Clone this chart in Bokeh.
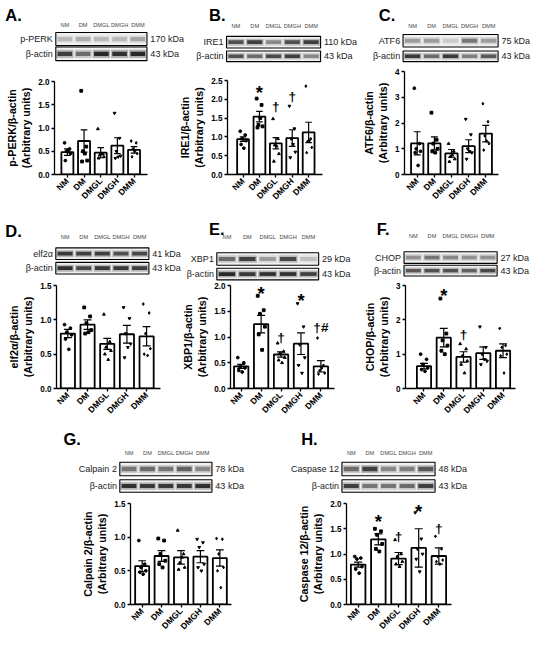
import numpy as np
from bokeh.plotting import figure
from bokeh.layouts import row, column
from bokeh.models import Range1d, FixedTicker, NumeralTickFormatter, Spacer
from bokeh.core.properties import value
from bokeh.embed import file_html
from bokeh.resources import INLINE

S = 0.97
FONT = "Liberation Sans"
GROUPS = ["NM", "DM", "DMGL", "DMGH", "DMM"]
MARKERS = ["circle", "square", "triangle", "inverted_triangle", "diamond"]
JIT = [-0.17, 0.13, -0.06, 0.19, -0.12, 0.05]

# ---------------- data ----------------
# A. p-PERK
perk_mean = [0.48, 0.72, 0.47, 0.62, 0.53]
perk_sem = [0.07, 0.24, 0.11, 0.17, 0.07]
perk_pts = [[0.68, 0.55, 0.50, 0.45, 0.30, 0.52],
            [1.80, 0.60, 0.50, 0.30, 0.28, 0.45],
            [0.98, 0.45, 0.42, 0.38, 0.35, 0.44],
            [1.32, 0.78, 0.50, 0.40, 0.35, 0.38],
            [0.72, 0.68, 0.55, 0.45, 0.38, 0.50]]
perk_yticks = [0, 0.5, 1.0, 1.5, 2.0]
perk_sig_idx, perk_sig_txt, perk_sig_y = [], [], []
perk_band = [0.22, 0.28, 0.22, 0.22, 0.32]
perk_actin = [0.85, 0.6, 1.0, 0.95, 1.0]

# B. IRE1
ire1_mean = [0.94, 1.54, 0.83, 0.97, 1.12]
ire1_sem = [0.06, 0.14, 0.15, 0.22, 0.27]
ire1_pts = [[1.15, 1.05, 0.95, 0.90, 0.80, 0.70],
            [2.02, 1.85, 1.32, 1.28, 1.25, 1.50],
            [1.48, 0.95, 0.78, 0.55, 0.35, 0.75],
            [1.82, 1.22, 0.95, 0.60, 0.45, 0.80],
            [2.35, 0.95, 0.88, 0.72, 0.58, 0.90]]
ire1_yticks = [0, 0.5, 1.0, 1.5, 2.0, 2.5]
ire1_sig_idx = [1, 2, 3]
ire1_sig_txt = ["*", "†", "†"]
ire1_sig_y = [2.30, 1.80, 2.08]
ire1_band = [0.75, 0.85, 0.45, 0.75, 0.85]
ire1_actin = [0.75, 0.6, 0.8, 0.85, 0.45]

# C. ATF6
atf6_mean = [1.21, 1.21, 0.82, 1.10, 1.59]
atf6_sem = [0.45, 0.25, 0.15, 0.25, 0.32]
atf6_pts = [[3.35, 1.20, 1.00, 0.90, 0.85, 0.35],
            [2.40, 1.35, 1.20, 1.00, 0.90, 0.85],
            [1.20, 0.90, 0.70, 0.60, 0.50, 0.75],
            [2.15, 1.55, 1.00, 0.85, 0.60, 0.90],
            [2.75, 2.05, 1.50, 1.20, 0.95, 1.30]]
atf6_yticks = [0, 1, 2, 3, 4]
atf6_sig_idx, atf6_sig_txt, atf6_sig_y = [], [], []
atf6_band = [0.35, 0.35, 0.15, 0.55, 0.35]
atf6_actin = [0.9, 0.6, 0.9, 0.5, 0.7]

# D. elf2alpha
elf_mean = [0.80, 0.93, 0.65, 0.79, 0.76]
elf_sem = [0.06, 0.07, 0.08, 0.13, 0.14]
elf_pts = [[0.93, 0.88, 0.82, 0.78, 0.72, 0.57],
           [1.18, 1.05, 0.95, 0.85, 0.80, 0.82],
           [1.08, 0.68, 0.60, 0.55, 0.50, 0.42],
           [1.18, 1.02, 0.80, 0.65, 0.45, 0.60],
           [1.23, 1.10, 0.80, 0.58, 0.50, 0.48]]
elf_yticks = [0, 0.5, 1.0, 1.5]
elf_sig_idx, elf_sig_txt, elf_sig_y = [], [], []
elf_band = [0.9, 0.85, 0.85, 0.75, 0.8]
elf_actin = [0.95, 0.8, 0.9, 0.9, 0.85]

# E. XBP1
xbp_mean = [0.43, 1.25, 0.66, 0.87, 0.43]
xbp_sem = [0.04, 0.17, 0.05, 0.21, 0.11]
xbp_pts = [[0.60, 0.50, 0.42, 0.40, 0.35, 0.32],
           [1.80, 1.52, 1.45, 1.20, 1.05, 0.75],
           [0.88, 0.72, 0.68, 0.60, 0.55, 0.50],
           [1.65, 1.20, 0.85, 0.60, 0.45, 0.30],
           [0.98, 0.45, 0.35, 0.30, 0.28, 0.40]]
xbp_yticks = [0, 0.5, 1.0, 1.5, 2.0]
xbp_sig_idx = [1, 2, 3, 4]
xbp_sig_txt = ["*", "†", "*", "†#"]
xbp_sig_y = [1.94, 1.0, 1.80, 1.19]
xbp_band = [0.6, 0.85, 0.35, 0.8, 0.2]
xbp_actin = [1.0, 0.9, 0.95, 0.95, 0.85]

# F. CHOP
chop_mean = [0.65, 1.48, 0.92, 1.03, 1.10]
chop_sem = [0.08, 0.27, 0.15, 0.18, 0.20]
chop_pts = [[1.00, 0.85, 0.70, 0.60, 0.55, 0.50],
            [2.62, 1.60, 1.40, 1.25, 1.10, 1.00],
            [1.30, 1.15, 0.95, 0.80, 0.70, 0.45],
            [1.80, 1.20, 1.00, 0.80, 0.70, 0.85],
            [1.75, 1.25, 1.20, 1.00, 0.95, 0.45]]
chop_yticks = [0, 1, 2, 3]
chop_sig_idx = [1, 2]
chop_sig_txt = ["*", "†"]
chop_sig_y = [2.85, 1.58]
chop_band = [0.4, 0.55, 0.45, 0.4, 0.4]
chop_actin = [0.7, 0.75, 0.75, 0.65, 0.8]

# G. Calpain 2
cal_mean = [0.57, 0.72, 0.70, 0.71, 0.69]
cal_sem = [0.08, 0.08, 0.10, 0.09, 0.12]
cal_pts = [[0.95, 0.60, 0.55, 0.50, 0.48, 0.45],
           [0.98, 0.95, 0.75, 0.65, 0.60, 0.55],
           [1.10, 0.75, 0.62, 0.55, 0.52, 0.70],
           [0.97, 0.92, 0.85, 0.60, 0.55, 0.50],
           [0.98, 0.97, 0.75, 0.55, 0.50, 0.25]]
cal_yticks = [0, 0.5, 1.0, 1.5]
cal_sig_idx, cal_sig_txt, cal_sig_y = [], [], []
cal_band = [0.55, 0.6, 0.55, 0.65, 0.45]
cal_actin = [0.95, 0.9, 0.9, 0.9, 0.95]

# H. Caspase 12
cas_mean = [0.79, 1.29, 0.91, 1.12, 0.96]
cas_sem = [0.05, 0.11, 0.12, 0.38, 0.16]
cas_pts = [[0.95, 0.92, 0.90, 0.75, 0.70, 0.62],
           [1.50, 1.45, 1.38, 1.20, 1.10, 1.05],
           [1.28, 1.00, 0.95, 0.85, 0.80, 0.75],
           [1.82, 1.30, 1.10, 1.00, 0.90, 0.65],
           [1.35, 1.10, 0.95, 0.88, 0.85, 0.80]]
cas_yticks = [0, 0.5, 1.0, 1.5, 2.0]
cas_sig_idx = [1, 2, 3, 4]
cas_sig_txt = ["*", "†", "*", "†"]
cas_sig_y = [1.73, 1.35, 1.93, 1.50]
cas_band = [0.6, 0.85, 0.45, 0.5, 0.7]
cas_actin = [0.85, 0.55, 0.55, 0.6, 0.85]

# ---------------- panel specs ----------------
def mk(letter, target, kda, ylabel, mean, sem, pts, yticks, fmt, sig, band, actin, geo):
    d = dict(letter=letter, target=target, kda=kda, ylabel=ylabel, mean=mean, sem=sem,
             pts=pts, yticks=yticks, fmt=fmt, sig=sig, band=band, actin=actin)
    d.update(geo)
    return d


PA = mk("A.", "p-PERK", "170 kDa", "p-PERK/β-actin\n(Arbitrary units)", perk_mean, perk_sem, perk_pts,
        perk_yticks, "0.0", (perk_sig_idx, perk_sig_txt, perk_sig_y), perk_band, perk_actin,
        dict(x0=0, x1=180, letter_xy=(5, 8), lane_y=25, box=(57, 151), b1=(33, 46.5), b2=(48, 62),
             axis=56, end=152, ctop=84, cbot=182, nm=69.3, sp=17.2))
PB = mk("B.", "IRE1", "110 kDa", "IRE1/β-actin\n(Arbitrary units)", ire1_mean, ire1_sem, ire1_pts,
        ire1_yticks, "0.0", (ire1_sig_idx, ire1_sig_txt, ire1_sig_y), ire1_band, ire1_actin,
        dict(x0=180, x1=366, letter_xy=(215, 8), lane_y=26, box=(233, 330), b1=(37, 49), b2=(52, 63),
             axis=230, end=332, ctop=82, cbot=182, nm=246.7, sp=17.6))
PC = mk("C.", "ATF6", "75 kDa", "ATF6/β-actin\n(Arbitrary units)", atf6_mean, atf6_sem, atf6_pts,
        atf6_yticks, "0", (atf6_sig_idx, atf6_sig_txt, atf6_sig_y), atf6_band, atf6_actin,
        dict(x0=366, x1=550, letter_xy=(390, 8), lane_y=26, box=(415, 513), b1=(35, 48), b2=(52, 63),
             axis=417, end=513, ctop=73, cbot=182, nm=430, sp=17.5))
PD = mk("D.", "elf2α", "41 kDa", "elf2α/β-actin\n(Arbitrary units)", elf_mean, elf_sem, elf_pts,
        elf_yticks, "0.0", (elf_sig_idx, elf_sig_txt, elf_sig_y), elf_band, elf_actin,
        dict(x0=0, x1=180, letter_xy=(5, 230), lane_y=244, box=(57, 153), b1=(255, 267), b2=(270, 282),
             axis=58, end=165, ctop=294, cbot=403, nm=69.7, sp=20.25))
PE = mk("E.", "XBP1", "29 kDa", "XBP1/β-actin\n(Arbitrary units)", xbp_mean, xbp_sem, xbp_pts,
        xbp_yticks, "0.0", (xbp_sig_idx, xbp_sig_txt, xbp_sig_y), xbp_band, xbp_actin,
        dict(x0=180, x1=366, letter_xy=(215, 228), lane_y=244, box=(223, 328), b1=(260, 273), b2=(276, 288),
             axis=237, end=344, ctop=294, cbot=403, nm=248, sp=20.5))
PF = mk("F.", "CHOP", "27 kDa", "CHOP/β-actin\n(Arbitrary units)", chop_mean, chop_sem, chop_pts,
        chop_yticks, "0", (chop_sig_idx, chop_sig_txt, chop_sig_y), chop_band, chop_actin,
        dict(x0=366, x1=550, letter_xy=(388, 228), lane_y=243, box=(416, 512), b1=(259, 271), b2=(273, 284),
             axis=418, end=531, ctop=294, cbot=402, nm=437, sp=20.3))
PG = mk("G.", "Calpain 2", "78 kDa", "Calpain 2/β-actin\n(Arbitrary units)", cal_mean, cal_sem, cal_pts,
        cal_yticks, "0.0", (cal_sig_idx, cal_sig_txt, cal_sig_y), cal_band, cal_actin,
        dict(x0=55, x1=275, letter_xy=(65, 445), lane_y=467, box=(123, 218), b1=(476, 490), b2=(494, 507),
             axis=134, end=238, ctop=519, cbot=624, nm=146, sp=20.0))
PH = mk("H.", "Caspase 12", "48 kDa", "Caspase 12/β-actin\n(Arbitrary units)", cas_mean, cas_sem, cas_pts,
        cas_yticks, "0.0", (cas_sig_idx, cas_sig_txt, cas_sig_y), cas_band, cas_actin,
        dict(x0=275, x1=490, letter_xy=(310, 445), lane_y=467, box=(352, 448), b1=(476, 490), b2=(494, 507),
             axis=357, end=465, ctop=519, cbot=626, nm=369, sp=20.75))

ROWS = [dict(top=0, bot=214, lead=0, panels=[PA, PB, PC]),
        dict(top=214, bot=435, lead=0, panels=[PD, PE, PF]),
        dict(top=435, bot=658, lead=55, panels=[PG, PH])]

TB = 4  # gap (ref px) between blot strip and the first chart frame top
PAGE_W = 550


def px(v):
    return int(round(v * S))


def fs(v):
    return value(f"{v * S:.2f}px")


FIXED = dict(toolbar_location=None, output_backend="svg", frame_align=False)


def draw_blot(b, d):
    lx, ly = d["letter_xy"]
    b.text(x=[lx], y=[-(ly - 2)], text=[d["letter"]], text_font=value(FONT), text_font_style="bold",
           text_font_size=fs(17), text_baseline="top", text_align="left", text_color="black")
    bx0, bx1 = d["box"]
    lw = (bx1 - bx0) / 5.0
    centers = [bx0 + (i + 0.5) * lw for i in range(5)]
    b.text(x=centers, y=[-d["lane_y"]] * 5, text=GROUPS, text_font=value(FONT), text_font_size=fs(5.8),
           text_baseline="middle", text_align="center", text_color="#444444")
    for (y0, y1), inten in ((d["b1"], d["band"]), (d["b2"], d["actin"])):
        h = y1 - y0
        ym = (y0 + y1) / 2.0
        b.quad(left=[bx0], right=[bx1], top=[-y0], bottom=[-y1], fill_color="#f1f1f1",
               line_color="black", line_width=1.1)
        b.quad(left=[c - 0.47 * lw for c in centers], right=[c + 0.47 * lw for c in centers],
               top=[-(ym - 0.3 * h)] * 5, bottom=[-(ym + 0.3 * h)] * 5, fill_color="#111111",
               fill_alpha=[0.3 * v for v in inten], line_color=None)
        b.quad(left=[c - 0.4 * lw for c in centers], right=[c + 0.4 * lw for c in centers],
               top=[-(ym - 0.16 * h)] * 5, bottom=[-(ym + 0.16 * h)] * 5, fill_color="#111111",
               fill_alpha=[0.85 * v for v in inten], line_color=None)
    ys = [-sum(d["b1"]) / 2.0, -sum(d["b2"]) / 2.0]
    b.text(x=[bx0 - 3, bx0 - 3], y=ys, text=[d["target"], "β-actin"],
           text_font=value(FONT), text_font_size=fs(9.3), text_baseline="middle", text_align="right",
           text_color="#222222")
    b.text(x=[bx1 + 3.5, bx1 + 3.5], y=ys, text=[d["kda"], "43 kDa"],
           text_font=value(FONT), text_font_size=fs(9.3), text_baseline="middle", text_align="left",
           text_color="#222222")


def blot_strip(r, ybot):
    W = px(PAGE_W)
    H = px(ybot) - px(r["top"])
    b = figure(width=W, height=H, x_range=Range1d(0, W / S),
               y_range=Range1d(-px(ybot) / S, -px(r["top"]) / S),
               x_axis_type=None, y_axis_type=None, min_border=0, title=None, **FIXED)
    b.outline_line_color = None
    for d in r["panels"]:
        draw_blot(b, d)
    return b


def bar_fig(d, ybot, rbot):
    W = px(d["x1"]) - px(d["x0"])
    H = px(rbot) - px(ybot)
    left = px(d["axis"]) - px(d["x0"])
    right = px(d["x1"]) - px(d["end"])
    top = px(d["ctop"]) - px(ybot)
    bottom = px(rbot) - px(d["cbot"])
    sp = d["sp"]
    lo = -(d["nm"] - d["axis"]) / sp
    hi = 4 + (d["end"] - (d["nm"] + 4 * sp)) / sp
    ymax = d["yticks"][-1]
    p = figure(width=W, height=H,
               x_range=Range1d(lo, hi), y_range=Range1d(0, ymax),
               min_border_left=left, min_border_right=right, min_border_top=top, min_border_bottom=bottom,
               title=None, **FIXED)
    p.outline_line_color = None
    p.grid.visible = False
    xs = list(range(5))
    mean, sem = d["mean"], d["sem"]
    p.vbar(x=xs, top=mean, bottom=0, width=0.72, fill_color="white", line_color="black", line_width=1.8)
    for i, grp in enumerate(d["pts"]):
        p.scatter(x=[i + JIT[j] for j in range(len(grp))], y=grp, marker=MARKERS[i], size=2.8,
                  color="black")
    lo_e = [m - s for m, s in zip(mean, sem)]
    hi_e = [m + s for m, s in zip(mean, sem)]
    p.segment(x0=xs, x1=xs, y0=lo_e, y1=hi_e, line_color="black", line_width=1.2)
    p.segment(x0=[x - 0.2 for x in xs], x1=[x + 0.2 for x in xs], y0=hi_e, y1=hi_e, line_color="black", line_width=1.2)
    p.segment(x0=[x - 0.2 for x in xs], x1=[x + 0.2 for x in xs], y0=lo_e, y1=lo_e, line_color="black", line_width=1.2)
    si, st, sy = d["sig"]
    star = [k for k, t in enumerate(st) if t == "*"]
    dag = [k for k, t in enumerate(st) if t != "*"]
    if star:
        p.text(x=[si[k] for k in star], y=[sy[k] for k in star], text=[st[k] for k in star],
               text_font=value(FONT), text_font_style="bold", text_font_size=fs(19),
               text_align="center", text_baseline="middle", y_offset=5 * S, text_color="black")
    if dag:
        p.text(x=[si[k] for k in dag], y=[sy[k] for k in dag], text=[st[k] for k in dag],
               text_font=value(FONT), text_font_style="bold", text_font_size=fs(14),
               text_align="center", text_baseline="middle", text_color="black")
    # axes
    for ax in (p.xaxis[0], p.yaxis[0]):
        ax.axis_line_width = 1.3
        ax.major_tick_line_width = 1.3
        ax.major_tick_in = 0
        ax.major_tick_out = 3
        ax.minor_tick_line_color = None
        ax.major_label_text_font = FONT
        ax.major_label_text_font_style = "bold"
        ax.major_label_text_color = "black"
        ax.major_label_standoff = 2
    p.xaxis.ticker = FixedTicker(ticks=xs)
    p.xaxis.major_label_overrides = {i: g for i, g in enumerate(GROUPS)}
    p.xaxis.major_label_orientation = np.pi / 4
    p.xaxis.major_label_text_font_size = f"{8.8 * S:.2f}px"
    p.yaxis.ticker = FixedTicker(ticks=d["yticks"])
    p.yaxis.formatter = NumeralTickFormatter(format=d["fmt"])
    p.yaxis.major_label_text_font_size = f"{8.4 * S:.2f}px"
    p.yaxis.axis_label = d["ylabel"]
    p.yaxis.axis_label_text_font = FONT
    p.yaxis.axis_label_text_font_style = "bold"
    p.yaxis.axis_label_text_font_size = f"{11 * S:.2f}px"
    p.yaxis.axis_label_standoff = 3
    p.yaxis.axis_label_text_color = "black"
    return p


blocks = []
for r in ROWS:
    ybot = min(d["ctop"] for d in r["panels"]) - TB
    strip = blot_strip(r, ybot)
    items = []
    if r["lead"]:
        items.append(Spacer(width=px(r["lead"]), height=px(r["bot"]) - px(ybot)))
    items += [bar_fig(d, ybot, r["bot"]) for d in r["panels"]]
    blocks.append(column(strip, row(*items)))

layout = column(*blocks)

open("out.html", "w").write(file_html(layout, INLINE))
